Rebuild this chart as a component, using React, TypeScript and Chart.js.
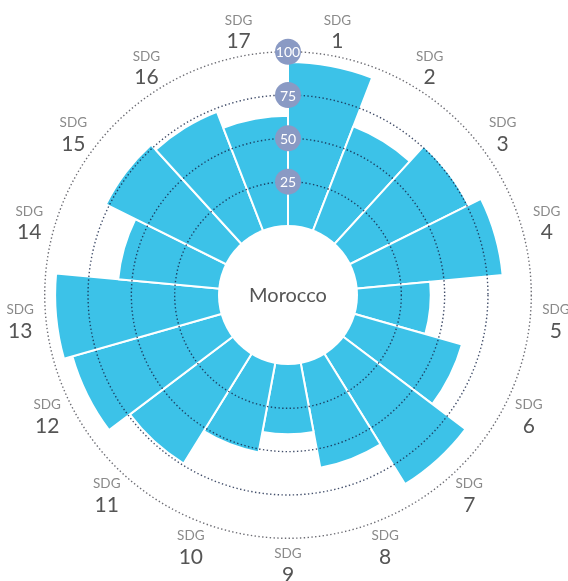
import React, { useEffect, useRef } from "react";
import { Chart, registerables } from "chart.js";

Chart.register(...registerables);

const categories = ["1","2","3","4","5","6","7","8","9","10","11","12","13","14","15","16","17"];
const scores = [94, 64, 76, 84, 42, 64, 88, 61, 40, 52, 74, 89, 94, 58, 77, 73, 63];
const ringTicks = [25, 50, 75, 100];
const countryName = "Morocco";
const labelPrefix = "SDG";

const BAR = "#3CC2E8";
const BUBBLE = "#8A9AC4";

const overlayPlugin = {
  id: "overlay",
  afterDatasetsDraw(chart: any) {
    const ctx = chart.ctx;
    const s = chart.scales.r;
    const cx = s.xCenter;
    const cy = s.yCenter;
    const r0 = s.getDistanceFromCenterForValue(0);
    ctx.save();
    // hole
    ctx.beginPath();
    ctx.arc(cx, cy, r0, 0, Math.PI * 2);
    ctx.fillStyle = "#ffffff";
    ctx.fill();
    // white axis line on top
    ctx.strokeStyle = "#ffffff";
    ctx.lineWidth = 2;
    ctx.beginPath();
    ctx.moveTo(cx, cy - r0);
    ctx.lineTo(cx, cy - s.getDistanceFromCenterForValue(100));
    ctx.stroke();
    // dotted rings
    ringTicks.forEach((t) => {
      const r = s.getDistanceFromCenterForValue(t);
      ctx.beginPath();
      ctx.setLineDash([1.4, 2.4]);
      ctx.lineWidth = 1.4;
      ctx.strokeStyle = t === 100 ? "rgba(60,60,70,0.75)" : "rgba(20,35,70,0.8)";
      ctx.arc(cx, cy, r, 0, Math.PI * 2);
      ctx.stroke();
    });
    ctx.setLineDash([]);
    // bubbles
    ringTicks.forEach((t) => {
      const r = s.getDistanceFromCenterForValue(t);
      ctx.beginPath();
      ctx.arc(cx, cy - r, 13, 0, Math.PI * 2);
      ctx.fillStyle = BUBBLE;
      ctx.fill();
      ctx.fillStyle = "#ffffff";
      ctx.font = "14px Lato";
      ctx.textAlign = "center";
      ctx.textBaseline = "middle";
      ctx.fillText(String(t), cx, cy - r + 1);
    });
    // center label
    ctx.fillStyle = "#555555";
    ctx.font = "20px Lato";
    ctx.textAlign = "center";
    ctx.textBaseline = "middle";
    ctx.fillText(countryName, cx, cy + 1);
    // SDG labels
    const n = categories.length;
    const R = 269;
    categories.forEach((c, i) => {
      const th = ((i + 0.5) * 2 * Math.PI) / n;
      const x = cx + R * Math.sin(th);
      const y = cy - R * Math.cos(th);
      ctx.textAlign = "center";
      ctx.textBaseline = "middle";
      ctx.fillStyle = "#8a8a8a";
      ctx.font = "13.5px Lato";
      ctx.fillText(labelPrefix, x, y - 10);
      ctx.fillStyle = "#555555";
      ctx.font = "21px Lato";
      ctx.fillText(c, x, y + 11);
    });
    ctx.restore();
  },
};

export default function App() {
  const ref = useRef<HTMLCanvasElement>(null);
  useEffect(() => {
    if (!ref.current) return;
    const D = 275;
    const cxT = 288;
    const cyT = 295;
    const chart = new Chart(ref.current, {
      type: "polarArea",
      data: {
        labels: categories.map((c) => labelPrefix + " " + c),
        datasets: [
          {
            data: scores,
            backgroundColor: BAR,
            borderColor: "#ffffff",
            borderWidth: 2,
          },
        ],
      },
      options: {
        responsive: false,
        animation: false,
        layout: {
          padding: {
            left: cxT - D,
            right: 568 - cxT - D,
            top: cyT - D,
            bottom: 581 - cyT - D,
          },
        },
        plugins: {
          legend: { display: false },
          tooltip: { enabled: false },
        },
        scales: {
          r: {
            min: -40.4,
            max: 118.3,
            ticks: { display: false },
            grid: { display: false },
            angleLines: { display: false },
            pointLabels: { display: false },
          },
        },
      },
      plugins: [overlayPlugin],
    });
    return () => chart.destroy();
  }, []);
  return (
    <canvas
      ref={ref}
      width={568}
      height={581}
      style={{ position: "absolute", left: 0, top: 0, width: 568, height: 581 }}
    />
  );
}
